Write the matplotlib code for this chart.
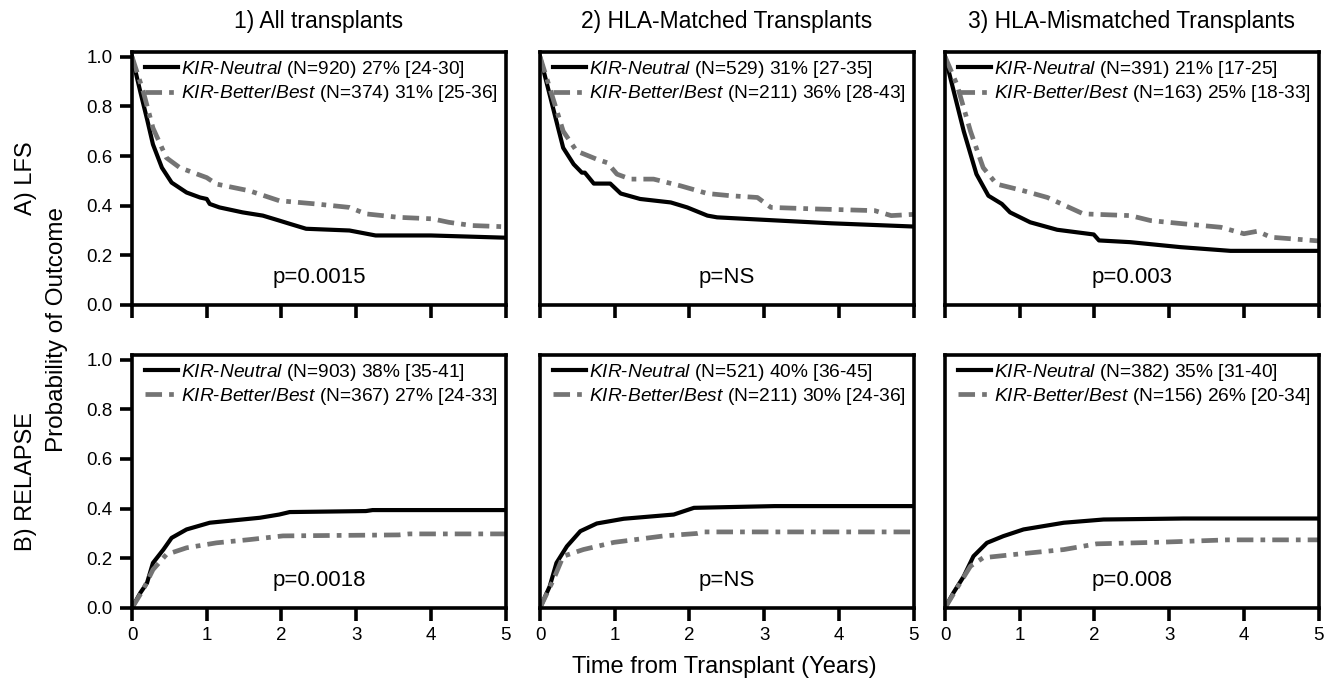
import matplotlib
matplotlib.use("Agg")
import matplotlib.pyplot as plt
import numpy as np

plt.rcParams['font.family'] = ['Liberation Sans', 'DejaVu Sans']
plt.rcParams['mathtext.fontset'] = 'custom'
plt.rcParams['mathtext.rm'] = 'Liberation Sans'
plt.rcParams['mathtext.it'] = 'Liberation Sans:italic'

# column / row headings
col_titles = ["1) All transplants", "2) HLA-Matched Transplants", "3) HLA-Mismatched Transplants"]
row_titles = ["A) LFS", "B) RELAPSE"]

# ---- LFS curves (time in years, probability) ----
lfs_all_neu_t = [0, 0.11, 0.2, 0.28, 0.40, 0.53, 0.73, 0.91, 1.0, 1.04, 1.17, 1.48, 1.75, 1.97, 2.11, 2.33, 2.91, 3.26, 4.0, 5.0]
lfs_all_neu_y = [1.0, 0.86, 0.75, 0.647, 0.553, 0.493, 0.453, 0.433, 0.427, 0.407, 0.393, 0.373, 0.36, 0.34, 0.327, 0.307, 0.30, 0.28, 0.28, 0.271]
lfs_all_bet_t = [0, 0.15, 0.28, 0.46, 0.64, 1.0, 1.13, 1.57, 1.97, 2.46, 2.91, 3.13, 3.57, 4.02, 4.24, 4.55, 5.0]
lfs_all_bet_y = [1.0, 0.86, 0.713, 0.593, 0.553, 0.513, 0.487, 0.46, 0.42, 0.407, 0.393, 0.367, 0.353, 0.347, 0.333, 0.32, 0.315]

lfs_mat_neu_t = [0, 0.31, 0.45, 0.56, 0.60, 0.72, 0.94, 1.08, 1.34, 1.75, 1.97, 2.24, 2.37, 3.0, 3.9, 5.0]
lfs_mat_neu_y = [1.0, 0.633, 0.567, 0.533, 0.533, 0.489, 0.489, 0.449, 0.427, 0.413, 0.393, 0.36, 0.353, 0.343, 0.329, 0.316]
lfs_mat_bet_t = [0, 0.31, 0.49, 0.76, 0.90, 1.03, 1.21, 1.52, 1.88, 2.24, 2.55, 2.91, 3.09, 3.67, 4.48, 4.70, 5.0]
lfs_mat_bet_y = [1.0, 0.70, 0.62, 0.587, 0.573, 0.527, 0.507, 0.507, 0.48, 0.449, 0.44, 0.433, 0.393, 0.387, 0.38, 0.36, 0.365]

lfs_mis_neu_t = [0, 0.25, 0.42, 0.58, 0.76, 0.87, 1.14, 1.50, 1.99, 2.06, 2.48, 3.15, 3.82, 5.0]
lfs_mis_neu_y = [1.0, 0.70, 0.527, 0.44, 0.407, 0.373, 0.333, 0.303, 0.284, 0.26, 0.253, 0.233, 0.218, 0.218]
lfs_mis_bet_t = [0, 0.16, 0.34, 0.51, 0.69, 1.05, 1.37, 1.85, 2.48, 2.75, 3.19, 3.69, 4.0, 4.18, 4.36, 5.0]
lfs_mis_bet_y = [1.0, 0.887, 0.70, 0.553, 0.487, 0.46, 0.433, 0.367, 0.36, 0.34, 0.327, 0.313, 0.287, 0.297, 0.273, 0.258]

# ---- Relapse curves ----
rel_all_neu_t = [0, 0.11, 0.2, 0.28, 0.42, 0.53, 0.73, 1.04, 1.71, 1.97, 2.11, 3.13, 3.22, 5.0]
rel_all_neu_y = [0.0, 0.06, 0.10, 0.181, 0.235, 0.282, 0.316, 0.343, 0.363, 0.376, 0.386, 0.39, 0.394, 0.394]
rel_all_bet_t = [0, 0.15, 0.28, 0.46, 0.73, 1.13, 1.57, 2.02, 3.57, 3.71, 5.0]
rel_all_bet_y = [0.0, 0.074, 0.154, 0.215, 0.242, 0.262, 0.275, 0.29, 0.294, 0.298, 0.298]

rel_mat_neu_t = [0, 0.13, 0.22, 0.36, 0.54, 0.76, 1.12, 1.79, 2.06, 3.14, 5.0]
rel_mat_neu_y = [0.0, 0.087, 0.181, 0.248, 0.309, 0.34, 0.359, 0.376, 0.403, 0.41, 0.41]
rel_mat_bet_t = [0, 0.18, 0.31, 0.58, 0.99, 1.66, 2.11, 2.20, 5.0]
rel_mat_bet_y = [0.0, 0.114, 0.208, 0.235, 0.264, 0.29, 0.30, 0.306, 0.306]

rel_mis_neu_t = [0, 0.11, 0.25, 0.38, 0.56, 0.78, 1.05, 1.59, 2.12, 3.19, 5.0]
rel_mis_neu_y = [0.0, 0.06, 0.127, 0.208, 0.262, 0.289, 0.316, 0.343, 0.356, 0.36, 0.36]
rel_mis_bet_t = [0, 0.20, 0.34, 0.51, 0.92, 1.59, 2.03, 2.93, 3.78, 5.0]
rel_mis_bet_y = [0.0, 0.10, 0.168, 0.202, 0.215, 0.235, 0.258, 0.265, 0.274, 0.274]

# legend texts and p values
neu_labels = [["(N=920) 27% [24-30]", "(N=529) 31% [27-35]", "(N=391) 21% [17-25]"],
              ["(N=903) 38% [35-41]", "(N=521) 40% [36-45]", "(N=382) 35% [31-40]"]]
bet_labels = [["(N=374) 31% [25-36]", "(N=211) 36% [28-43]", "(N=163) 25% [18-33]"],
              ["(N=367) 27% [24-33]", "(N=211) 30% [24-36]", "(N=156) 26% [20-34]"]]
p_values = [["p=0.0015", "p=NS", "p=0.003"],
            ["p=0.0018", "p=NS", "p=0.008"]]

neutral = [[(lfs_all_neu_t, lfs_all_neu_y), (lfs_mat_neu_t, lfs_mat_neu_y), (lfs_mis_neu_t, lfs_mis_neu_y)],
           [(rel_all_neu_t, rel_all_neu_y), (rel_mat_neu_t, rel_mat_neu_y), (rel_mis_neu_t, rel_mis_neu_y)]]
better = [[(lfs_all_bet_t, lfs_all_bet_y), (lfs_mat_bet_t, lfs_mat_bet_y), (lfs_mis_bet_t, lfs_mis_bet_y)],
          [(rel_all_bet_t, rel_all_bet_y), (rel_mat_bet_t, rel_mat_bet_y), (rel_mis_bet_t, rel_mis_bet_y)]]

fig = plt.figure(figsize=(13.39, 6.9), dpi=100)

lefts = [0.0986, 0.4033, 0.7058]
width = 0.279
bottoms = [0.558, 0.119]
height = 0.367
grey = '#747474'

for r in range(2):
    for c in range(3):
        ax = fig.add_axes([lefts[c], bottoms[r], width, height])
        nt, ny = neutral[r][c]
        bt, by = better[r][c]
        ax.plot(nt, ny, color='black', lw=3.0,
                label=r'$\mathit{KIR}$-$\mathit{Neutral}$ ' + neu_labels[r][c])
        ax.plot(bt, by, color=grey, lw=3.4, linestyle=(0, (3.5, 1.5, 1, 1.5)),
                label=r'$\mathit{KIR}$-$\mathit{Better/Best}$ ' + bet_labels[r][c])
        ax.set_xlim(0, 5)
        ax.set_ylim(0, 1.02)
        ax.set_xticks(np.arange(0, 6, 1))
        ax.set_yticks(np.arange(0, 1.01, 0.2))
        for s in ax.spines.values():
            s.set_linewidth(2.6)
        ax.tick_params(direction='out', length=9, width=2.6, labelsize=13.5, pad=5)
        if r == 0:
            ax.tick_params(labelbottom=False)
        if c == 0:
            ax.set_yticklabels([f"{v:.1f}" for v in np.arange(0, 1.01, 0.2)])
        else:
            ax.tick_params(left=False, labelleft=False)
        ax.text(2.5, 0.11, p_values[r][c], ha='center', va='center', fontsize=16)
        ax.legend(loc='upper left', bbox_to_anchor=(0.0, 1.025), frameon=False,
                  fontsize=13.8, handlelength=1.7, handletextpad=0.15,
                  labelspacing=0.18, borderaxespad=0.3)
        if r == 0:
            ax.set_title(col_titles[c], fontsize=16.5, pad=17)

fig.text(0.0195, bottoms[0] + height / 2, row_titles[0], rotation=90, ha='center', va='center', fontsize=17)
fig.text(0.0195, bottoms[1] + height / 2, row_titles[1], rotation=90, ha='center', va='center', fontsize=17)
fig.text(0.0425, 0.522, "Probability of Outcome", rotation=90, ha='center', va='center', fontsize=17.5)
fig.text(0.541, 0.034, "Time from Transplant (Years)", ha='center', va='center', fontsize=17)

fig.savefig("out.png", dpi=100)
